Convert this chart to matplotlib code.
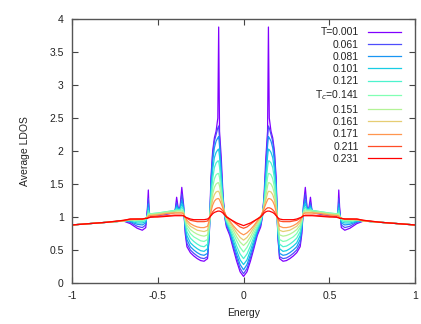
import numpy as np
import matplotlib
matplotlib.use("Agg")
import matplotlib.pyplot as plt

plt.rcParams['font.family'] = ['Liberation Sans', 'DejaVu Sans']

# energies of the left half (the curves are symmetric about E = 0)
energy_half = [-1.0, -0.9, -0.8, -0.7, -0.66, -0.62, -0.59, -0.57, -0.56, -0.555,
               -0.55, -0.54, -0.5, -0.45, -0.4, -0.39, -0.38, -0.37, -0.36, -0.35,
               -0.34, -0.33, -0.31, -0.29, -0.27, -0.25, -0.23, -0.21, -0.20, -0.19,
               -0.18, -0.17, -0.16, -0.15, -0.145, -0.14, -0.13, -0.12, -0.11, -0.10,
               -0.08, -0.06, -0.04, -0.02, 0.0]

labels = ['T=0.001', '0.061', '0.081', '0.101', '0.121', 'T$_c$=0.141',
          '0.151', '0.161', '0.171', '0.211', '0.231']

ldos_t001 = [0.88, 0.90, 0.92, 0.94, 0.90, 0.83, 0.80, 0.84, 1.15, 1.41,
             1.05, 1.00, 1.02, 1.04, 1.07, 1.30, 1.12, 1.15, 1.45, 1.20,
             0.75, 0.55, 0.46, 0.41, 0.37, 0.34, 0.33, 0.37, 0.70, 1.60,
             2.00, 2.20, 2.30, 2.50, 3.88, 2.30, 1.90, 1.35, 1.00, 0.85,
             0.72, 0.52, 0.33, 0.17, 0.10]
ldos_t061 = [0.88, 0.90, 0.92, 0.94, 0.92, 0.86, 0.84, 0.88, 1.10, 1.28,
             1.06, 1.02, 1.03, 1.05, 1.08, 1.22, 1.12, 1.14, 1.35, 1.18,
             0.80, 0.60, 0.50, 0.45, 0.41, 0.38, 0.37, 0.40, 0.72, 1.50,
             1.95, 2.15, 2.25, 2.35, 2.38, 2.20, 1.75, 1.30, 1.02, 0.88,
             0.75, 0.56, 0.38, 0.22, 0.14]
ldos_t081 = [0.88, 0.90, 0.92, 0.94, 0.93, 0.89, 0.88, 0.91, 1.06, 1.20,
             1.06, 1.03, 1.04, 1.06, 1.09, 1.18, 1.12, 1.13, 1.26, 1.15,
             0.84, 0.66, 0.55, 0.50, 0.46, 0.43, 0.42, 0.45, 0.75, 1.45,
             1.85, 2.05, 2.15, 2.20, 2.22, 2.08, 1.70, 1.28, 1.02, 0.90,
             0.78, 0.60, 0.43, 0.28, 0.20]
ldos_t101 = [0.88, 0.90, 0.92, 0.94, 0.94, 0.91, 0.91, 0.93, 1.04, 1.14,
             1.06, 1.04, 1.05, 1.07, 1.10, 1.15, 1.12, 1.12, 1.20, 1.13,
             0.88, 0.72, 0.61, 0.56, 0.52, 0.49, 0.48, 0.52, 0.78, 1.38,
             1.72, 1.90, 1.98, 2.02, 2.03, 1.92, 1.60, 1.25, 1.02, 0.92,
             0.80, 0.65, 0.49, 0.35, 0.28]
ldos_t121 = [0.88, 0.90, 0.92, 0.94, 0.95, 0.93, 0.93, 0.95, 1.03, 1.10,
             1.06, 1.05, 1.06, 1.08, 1.10, 1.12, 1.11, 1.11, 1.15, 1.11,
             0.91, 0.78, 0.68, 0.63, 0.59, 0.56, 0.55, 0.59, 0.82, 1.30,
             1.58, 1.75, 1.82, 1.85, 1.85, 1.76, 1.50, 1.22, 1.03, 0.94,
             0.83, 0.70, 0.56, 0.44, 0.37]
ldos_t141 = [0.88, 0.90, 0.92, 0.94, 0.96, 0.95, 0.95, 0.97, 1.02, 1.06,
             1.05, 1.05, 1.06, 1.08, 1.10, 1.10, 1.10, 1.10, 1.11, 1.09,
             0.94, 0.84, 0.75, 0.70, 0.67, 0.64, 0.63, 0.66, 0.86, 1.22,
             1.45, 1.58, 1.64, 1.66, 1.66, 1.60, 1.40, 1.20, 1.05, 0.96,
             0.86, 0.75, 0.64, 0.54, 0.47]
ldos_t151 = [0.88, 0.90, 0.92, 0.94, 0.96, 0.96, 0.96, 0.98, 1.01, 1.04,
             1.04, 1.04, 1.05, 1.07, 1.08, 1.09, 1.09, 1.09, 1.09, 1.08,
             0.96, 0.88, 0.81, 0.77, 0.74, 0.72, 0.71, 0.73, 0.89, 1.16,
             1.35, 1.45, 1.50, 1.52, 1.52, 1.47, 1.32, 1.18, 1.06, 0.98,
             0.89, 0.80, 0.70, 0.62, 0.57]
ldos_t161 = [0.88, 0.90, 0.92, 0.94, 0.96, 0.96, 0.97, 0.98, 1.00, 1.02,
             1.03, 1.03, 1.04, 1.06, 1.07, 1.07, 1.07, 1.07, 1.07, 1.06,
             0.98, 0.92, 0.86, 0.83, 0.80, 0.79, 0.78, 0.80, 0.92, 1.12,
             1.26, 1.34, 1.38, 1.39, 1.39, 1.36, 1.26, 1.16, 1.07, 1.00,
             0.92, 0.84, 0.76, 0.69, 0.65]
ldos_t171 = [0.88, 0.90, 0.92, 0.94, 0.96, 0.97, 0.97, 0.98, 0.99, 1.01,
             1.02, 1.02, 1.03, 1.05, 1.06, 1.06, 1.06, 1.06, 1.06, 1.05,
             1.00, 0.95, 0.90, 0.87, 0.85, 0.84, 0.84, 0.86, 0.95, 1.08,
             1.18, 1.24, 1.27, 1.28, 1.28, 1.26, 1.20, 1.13, 1.07, 1.01,
             0.94, 0.87, 0.81, 0.76, 0.73]
ldos_t211 = [0.88, 0.90, 0.92, 0.95, 0.97, 0.97, 0.97, 0.98, 0.98, 0.99,
             1.00, 1.00, 1.01, 1.02, 1.03, 1.03, 1.03, 1.03, 1.03, 1.02,
             1.00, 0.98, 0.95, 0.94, 0.93, 0.93, 0.93, 0.94, 0.98, 1.03,
             1.08, 1.11, 1.13, 1.14, 1.14, 1.14, 1.12, 1.09, 1.05, 1.01,
             0.97, 0.93, 0.89, 0.85, 0.83]
ldos_t231 = [0.88, 0.90, 0.92, 0.95, 0.97, 0.97, 0.97, 0.98, 0.98, 0.99,
             0.99, 1.00, 1.00, 1.01, 1.02, 1.02, 1.02, 1.02, 1.02, 1.02,
             1.00, 0.99, 0.97, 0.96, 0.96, 0.96, 0.96, 0.97, 0.99, 1.02,
             1.05, 1.07, 1.08, 1.09, 1.09, 1.09, 1.08, 1.06, 1.03, 1.00,
             0.97, 0.94, 0.91, 0.89, 0.87]

curves = [ldos_t001, ldos_t061, ldos_t081, ldos_t101, ldos_t121, ldos_t141,
          ldos_t151, ldos_t161, ldos_t171, ldos_t211, ldos_t231]

# mirror the left half onto the right half
eh = np.array(energy_half)
energy = np.concatenate([eh, -eh[-2::-1]])

colors = plt.cm.rainbow(np.linspace(0, 1, len(curves)))

fig = plt.figure(figsize=(4.21, 3.24), dpi=100)
ax = fig.add_axes([0.171, 0.1265, 0.815, 0.8145])

for vals, lab, col in zip(curves, labels, colors):
    v = np.array(vals)
    ax.plot(energy, np.concatenate([v, v[-2::-1]]), color=col, lw=0.9, label=lab)

ax.set_xlim(-1, 1)
ax.set_ylim(0, 4)
ax.set_xticks([-1, -0.5, 0, 0.5, 1])
ax.set_xticklabels(['-1', '-0.5', '0', '0.5', '1'])
ax.set_yticks(np.arange(0, 4.01, 0.5))
ax.set_yticklabels(['0', '0.5', '1', '1.5', '2', '2.5', '3', '3.5', '4'])
ax.tick_params(direction='in', top=True, right=True, length=4, width=0.8,
               labelsize=7.5, color='#444444', labelcolor='#222222')
ax.tick_params(axis='x', pad=6)
ax.tick_params(axis='y', pad=6)
for s in ax.spines.values():
    s.set_color('#555555')
    s.set_linewidth(1.0)

ax.set_xlabel('Energy', fontsize=7.5, labelpad=5, color='#222222')
ax.set_ylabel('Average LDOS', fontsize=7.5, labelpad=14, color='#222222')

leg = ax.legend(loc='upper right', frameon=False, markerfirst=False, fontsize=7.5,
                handlelength=3.1, handletextpad=0.9, labelspacing=0.22,
                borderaxespad=0.0, bbox_to_anchor=(0.97, 0.985))
for t in leg.get_texts():
    t.set_color('#222222')

fig.savefig('out.png', dpi=100)
